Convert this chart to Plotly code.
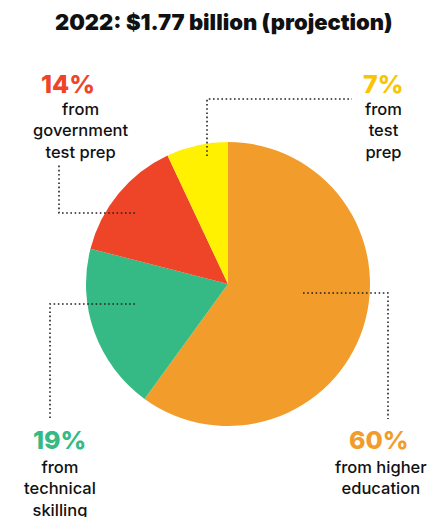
import plotly.graph_objects as go

W, H = 427, 517

# ---- data ----
categories = ["from higher education", "from technical skilling", "from government test prep", "from test prep"]
values = [60, 19, 14, 7]
pct_labels = ["60%", "19%", "14%", "7%"]
desc_labels = ["from higher<br>education", "from<br>technical<br>skilling", "from<br>government<br>test prep", "from<br>test<br>prep"]
title_text = "2022: $1.77 billion (projection)"

# ---- styles ----
slice_colors = ["#F29D2B", "#35B985", "#EE4427", "#FFF100"]
pct_colors = ["#F29D2B", "#35B985", "#EE4427", "#F9C400"]

def px(x):
    return x / W

def py(y):
    return 1 - y / H

fig = go.Figure()
fig.add_trace(go.Pie(
    labels=categories, values=values, sort=False, direction="clockwise", rotation=0,
    marker=dict(colors=slice_colors, line=dict(width=0)),
    textinfo="none", hoverinfo="label+percent", showlegend=False,
    domain=dict(x=[px(86), px(370)], y=[py(426), py(142)]),
))

# label positions (pixel centres / tops)
pct_pos = [(379, 440), (60, 440), (68, 84), (383, 84)]
desc_pos = [(381, 455), (60, 455), (81, 97), (383, 97)]

annotations = [dict(x=px(224), y=py(22), xref="paper", yref="paper", text=title_text,
                    showarrow=False, xanchor="center", yanchor="middle",
                    font=dict(family="Inter", size=22, color="#111111", weight=900))]
for i in range(len(values)):
    annotations.append(dict(x=px(pct_pos[i][0]), y=py(pct_pos[i][1]), xref="paper", yref="paper",
                            text=pct_labels[i], showarrow=False, xanchor="center", yanchor="middle",
                            font=dict(family="Inter", size=25, color=pct_colors[i], weight=800)))
    annotations.append(dict(x=px(desc_pos[i][0]), y=py(desc_pos[i][1]), xref="paper", yref="paper",
                            text=desc_labels[i], showarrow=False, xanchor="center", yanchor="top",
                            align="center",
                            font=dict(family="Inter", size=16.5, color="#111111", weight=500)))

# leader lines (polyline pixel points)
leaders = [
    [(303, 293), (388, 293), (388, 419)],
    [(135, 304), (50, 304), (50, 418)],
    [(135, 213), (59, 213), (59, 165)],
    [(207, 156), (207, 99), (352, 99)],
]
shapes = []
for pts in leaders:
    path = "M " + " L ".join(f"{px(x)},{py(y)}" for x, y in pts)
    shapes.append(dict(type="path", path=path, xref="paper", yref="paper",
                       line=dict(color="#222222", width=1.6, dash="1.6px,2.6px")))

fig.update_layout(width=W, height=H, margin=dict(l=0, r=0, t=0, b=0),
                  paper_bgcolor="white", plot_bgcolor="white",
                  annotations=annotations, shapes=shapes)

fig.write_html("out.html")
